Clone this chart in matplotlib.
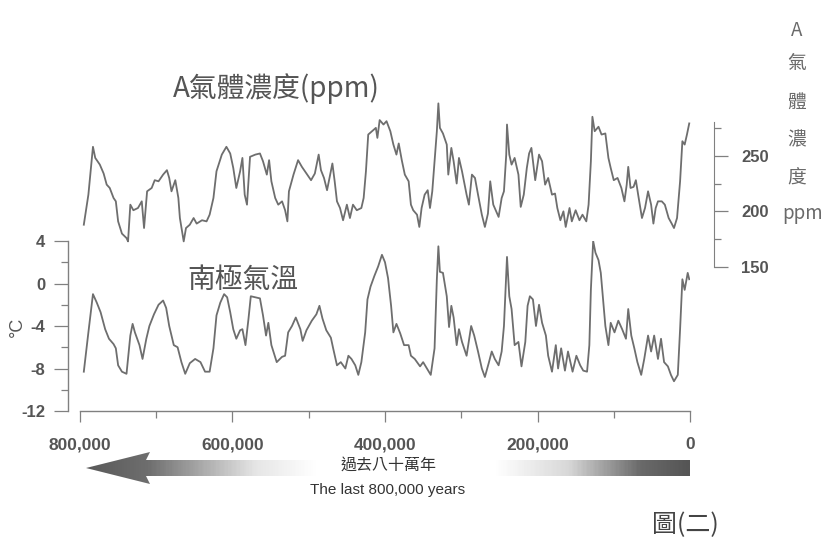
import numpy as np
import matplotlib
matplotlib.use('Agg')
import matplotlib.pyplot as plt
from matplotlib.colors import LinearSegmentedColormap
from matplotlib.patches import Polygon

# ---------------- data (ages in thousand years before present) ----------------
co2_age = [795, 789, 783, 780, 774, 769, 765, 761, 756, 753, 750, 745, 739, 737, 734, 730, 724, 719, 716, 712,
           706, 702, 697, 691, 686, 683, 680, 675, 671, 669, 664, 661, 656, 651, 647, 640, 634, 630, 625, 621,
           614, 608, 603, 599, 595, 590, 587, 584, 581, 577, 570, 564, 560, 555, 552, 549, 544, 540, 535, 531,
           528, 526, 520, 514, 509, 503, 497, 492, 487, 484, 480, 476, 472, 469, 466, 463, 459, 455, 450, 446,
           442, 437, 431, 428, 425, 422, 417, 412, 410, 407, 402, 398, 393, 389, 385, 382, 378, 374, 369, 366,
           363, 358, 355, 352, 348, 344, 341, 338, 335, 332, 330, 328, 324, 319, 317, 313, 310, 306, 303, 299,
           293, 290, 286, 282, 278, 273, 269, 265, 262, 258, 251, 247, 244, 241, 240, 237, 234, 230, 225, 222,
           218, 214, 211, 208, 203, 198, 194, 190, 186, 181, 177, 174, 170, 166, 163, 158, 155, 150, 145, 141,
           136, 133, 130, 128, 125, 120, 116, 111, 107, 104, 100, 95, 90, 86, 83, 81, 78, 74, 71, 68,
           63, 59, 55, 51, 48, 45, 42, 37, 33, 28, 24, 21, 17, 13, 10, 7, 4, 1]
co2_ppm = [188, 215, 258, 248, 242, 234, 224, 221, 212, 209, 191, 180, 176, 173, 206, 201, 203, 209, 185, 218,
           221, 228, 227, 233, 237, 230, 218, 228, 212, 194, 173, 185, 188, 194, 189, 192, 191, 197, 212, 236,
           251, 258, 252, 239, 221, 236, 248, 215, 206, 249, 251, 252, 245, 233, 246, 227, 212, 206, 209, 201,
           191, 218, 233, 246, 240, 234, 228, 234, 251, 237, 230, 219, 233, 243, 227, 209, 203, 192, 206, 194,
           206, 201, 203, 212, 236, 269, 272, 275, 266, 282, 278, 281, 272, 260, 251, 261, 246, 233, 227, 206,
           201, 197, 186, 203, 215, 219, 203, 218, 245, 272, 297, 275, 270, 260, 233, 257, 245, 225, 248, 236,
           215, 206, 233, 230, 215, 197, 186, 198, 227, 206, 195, 212, 218, 251, 278, 251, 242, 248, 233, 204,
           215, 239, 252, 257, 228, 251, 245, 224, 230, 215, 216, 203, 192, 200, 186, 203, 191, 201, 192, 197,
           191, 206, 245, 285, 272, 276, 269, 270, 248, 239, 228, 230, 221, 209, 224, 240, 221, 222, 228, 215,
           194, 203, 218, 206, 189, 203, 209, 209, 206, 194, 189, 185, 194, 227, 263, 260, 269, 279]

temp_age = [795, 789, 783, 778, 773, 767, 762, 756, 753, 750, 745, 739, 734, 731, 728, 722, 718, 713, 709, 703,
            697, 691, 687, 683, 677, 672, 667, 662, 656, 649, 642, 636, 630, 625, 621, 616, 611, 607, 603, 599,
            595, 590, 587, 583, 579, 576, 570, 564, 560, 556, 553, 549, 542, 535, 531, 527, 522, 517, 511, 508,
            503, 496, 490, 486, 482, 477, 471, 468, 463, 458, 452, 448, 444, 439, 435, 431, 426, 423, 419, 414,
            409, 404, 400, 396, 392, 389, 385, 380, 375, 369, 366, 361, 354, 350, 345, 340, 335, 332, 330, 328,
            324, 319, 316, 313, 310, 306, 303, 299, 293, 287, 283, 278, 273, 269, 264, 260, 256, 251, 247, 244,
            240, 237, 234, 230, 225, 221, 216, 213, 210, 206, 202, 198, 194, 189, 186, 181, 176, 173, 169, 164,
            160, 154, 149, 144, 140, 135, 132, 130, 127, 124, 120, 117, 114, 111, 107, 104, 99, 94, 89, 84,
            81, 77, 73, 69, 64, 60, 55, 51, 47, 42, 38, 34, 29, 25, 21, 16, 13, 10, 7, 3, 1]
temp_c = [-8.3, -4.6, -1.0, -1.8, -2.7, -4.3, -5.2, -5.7, -6.1, -7.7, -8.3, -8.5, -4.9, -3.8, -4.6, -5.8, -7.1, -5.2, -4.0, -2.9,
          -2.0, -1.6, -2.3, -4.0, -5.8, -6.0, -7.4, -8.5, -7.5, -7.1, -7.4, -8.3, -8.3, -6.1, -3.0, -1.8, -1.0, -1.3, -2.7, -4.3,
          -5.2, -4.4, -4.3, -5.8, -3.3, -1.2, -1.3, -1.4, -3.0, -4.9, -3.7, -5.8, -7.4, -6.9, -6.8, -4.6, -4.0, -3.2, -4.3, -5.4,
          -4.4, -3.5, -2.9, -2.1, -3.3, -4.4, -5.1, -6.1, -7.7, -7.4, -8.0, -6.8, -7.1, -7.7, -8.6, -7.4, -4.6, -1.5, -0.3, 0.7,
          1.6, 2.7, 2.0, 0.5, -2.1, -4.6, -3.8, -4.7, -5.8, -5.8, -6.8, -7.1, -7.8, -7.4, -8.0, -8.6, -6.1, 0.4, 3.5, 1.1,
          1.0, -1.2, -4.1, -2.1, -3.2, -5.8, -4.3, -5.5, -6.8, -4.0, -4.9, -6.4, -8.0, -8.8, -7.5, -6.4, -7.1, -7.7, -6.4, -4.0,
          2.5, -1.2, -2.4, -5.8, -5.5, -7.8, -5.5, -2.1, -1.2, -1.5, -4.0, -2.0, -3.7, -4.9, -6.8, -8.3, -5.8, -8.0, -6.1, -8.2,
          -6.4, -8.3, -6.8, -7.7, -8.2, -8.3, -5.8, -0.6, 4.0, 2.9, 2.2, 1.0, -1.5, -4.0, -5.8, -3.7, -4.6, -3.5, -4.3, -5.2,
          -2.4, -4.9, -6.1, -7.4, -8.6, -7.1, -4.9, -6.4, -4.9, -7.1, -5.2, -7.4, -7.8, -8.6, -9.2, -8.6, -4.3, 0.4, -0.6, 1.0, 0.4]

x_ticks = [800, 600, 400, 200, 0]
x_minor_ticks = [700, 500, 300, 100]
x_tick_labels = ['800,000', '600,000', '400,000', '200,000', '0']
temp_ticks = [4, 0, -4, -8, -12]
temp_minor_ticks = [2, -2, -6, -10]
temp_tick_labels = ['4', '0', '-4', '-8', '-12']
co2_ticks = [150, 200, 250]
co2_minor_ticks = [175, 225, 275]
co2_tick_labels = ['150', '200', '250']

title_co2 = 'A氣體濃度(ppm)'
title_temp = '南極氣溫'
right_label = ['A', '氣', '體', '濃', '度', 'ppm']
temp_unit = '°C'
arrow_cn = '過去八十萬年'
arrow_en = 'The last 800,000 years'
fig_label = '圖(二)'

# ---------------- styling ----------------
W, H = 824, 549
GREY = '#6e6e6e'
AXC = '#808080'
TXT = '#555555'
CJK = ['Noto Sans CJK TC', 'DejaVu Sans']
NUM = ['Liberation Sans', 'DejaVu Sans']

fig = plt.figure(figsize=(W / 100, H / 100), dpi=100)
fig.patch.set_facecolor('white')


def px_box(x0, y0, x1, y1):
    return [x0 / W, 1 - y1 / H, (x1 - x0) / W, (y1 - y0) / H]


def style_labels(labels, size):
    for lb in labels:
        lb.set_fontfamily(NUM)
        lb.set_fontweight('bold')
        lb.set_fontsize(size)
        lb.set_color(TXT)


# ---------------- temperature axes ----------------
ax = fig.add_axes(px_box(80, 241, 690, 411))
ax.set_facecolor('none')
ax.plot(temp_age, temp_c, color=GREY, lw=1.3)
ax.set_xlim(800, 0)
ax.set_ylim(-12, 4)
for s in ['top', 'right']:
    ax.spines[s].set_visible(False)
ax.spines['left'].set_position(('outward', 9))
for s in ['left', 'bottom']:
    ax.spines[s].set_color(AXC)
    ax.spines[s].set_linewidth(1.0)
ax.set_yticks(temp_ticks)
ax.set_yticks(temp_minor_ticks, minor=True)
ax.set_yticklabels(temp_tick_labels)
ax.set_xticks(x_ticks)
ax.set_xticks(x_minor_ticks, minor=True)
ax.set_xticklabels(x_tick_labels)
ax.tick_params(axis='y', which='major', length=10, width=0.9, color=AXC, pad=6)
ax.tick_params(axis='y', which='minor', length=5, width=0.9, color=AXC)
ax.tick_params(axis='x', which='major', length=8, width=0.9, color=AXC, pad=11)
ax.tick_params(axis='x', which='minor', length=5, width=0.9, color=AXC)
style_labels(ax.get_yticklabels(), 12)
style_labels(ax.get_xticklabels(), 12.5)

# ---------------- CO2 axes ----------------
ax2 = fig.add_axes(px_box(80, 122, 690, 267))
ax2.set_facecolor('none')
ax2.plot(co2_age, co2_ppm, color=GREY, lw=1.3, clip_on=False)
ax2.set_xlim(800, 0)
ax2.set_ylim(150, 150 + 145 / 1.113)
for s in ['top', 'left', 'bottom']:
    ax2.spines[s].set_visible(False)
ax2.spines['right'].set_position(('outward', 17))
ax2.spines['right'].set_color(AXC)
ax2.set_xticks([])
ax2.yaxis.tick_right()
ax2.set_yticks(co2_ticks)
ax2.set_yticks(co2_minor_ticks, minor=True)
ax2.set_yticklabels(co2_tick_labels)
ax2.tick_params(axis='y', which='major', length=10, width=0.9, color=AXC, pad=10)
ax2.tick_params(axis='y', which='minor', length=5, width=0.9, color=AXC)
style_labels(ax2.get_yticklabels(), 12)

# ---------------- overlay (texts, arrow) ----------------
ov = fig.add_axes([0, 0, 1, 1])
ov.set_xlim(0, W)
ov.set_ylim(H, 0)
ov.axis('off')
ov.set_facecolor('none')

ov.text(276, 89, title_co2, family=CJK, fontsize=20, color=TXT, ha='center', va='center', fontweight='light')
ov.text(243, 280, title_temp, family=CJK, fontsize=20, color=TXT, ha='center', va='center', fontweight='light')
ov.text(17, 327, temp_unit, family=NUM, fontsize=13, color=TXT, ha='center', va='center', rotation=90)
ov.text(685, 525, fig_label, family=CJK, fontsize=18, color='#444444', ha='center', va='center')

ry = [30, 64, 102, 140, 178, 213]
for i, ch in enumerate(right_label):
    xx = 803 if ch == 'ppm' else 797
    ov.text(xx, ry[i], ch, family=CJK, fontsize=13.5, color='#6a6a6a', ha='center', va='center', fontweight='light')

# gradient arrow
x_tip, x_end, xc = 86, 690, 150
yc, hb, hh = 468, 8, 16
poly = Polygon([(x_tip, yc), (xc, yc - hh), (xc - 4, yc - hb), (x_end, yc - hb),
                (x_end, yc + hb), (xc - 4, yc + hb), (xc, yc + hh)],
               closed=True, facecolor='none', edgecolor='none', transform=ov.transData)
ov.add_patch(poly)
cmap = LinearSegmentedColormap.from_list('arr', [(0.0, '#5a5a5a'), (0.1, '#6e6e6e'), (0.28, '#e6e6e6'),
                                                 (0.38, '#ffffff'), (0.68, '#ffffff'), (0.8, '#d8d8d8'),
                                                 (0.92, '#6a6a6a'), (1.0, '#555555')])
grad = np.linspace(0, 1, 400).reshape(1, -1)
im = ov.imshow(grad, cmap=cmap, extent=[x_tip, x_end, yc + hh, yc - hh], aspect='auto', zorder=1)
im.set_clip_path(poly)
ov.set_xlim(0, W)
ov.set_ylim(H, 0)

ov.text(389, 465, arrow_cn, family=CJK, fontsize=11.5, color='#333333', ha='center', va='center', zorder=3)
ov.text(388, 490, arrow_en, family=NUM, fontsize=11, color='#333333', ha='center', va='center', zorder=3)

fig.savefig('out.png', dpi=100, facecolor='white')
